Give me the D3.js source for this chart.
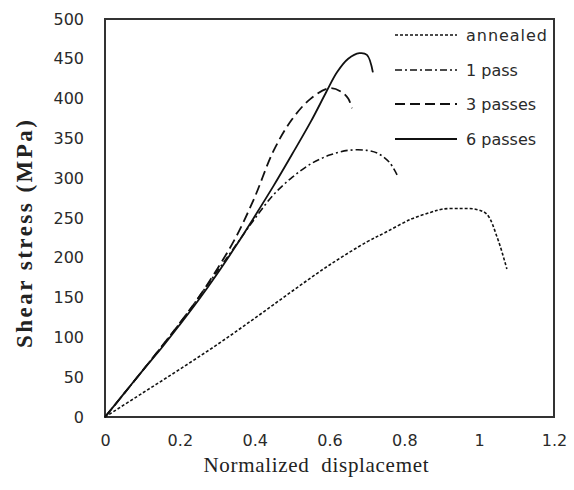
<!DOCTYPE html>
<html><head><meta charset="utf-8">
<script src="https://cdn.jsdelivr.net/npm/d3@7"></script>
<style>body{margin:0;background:#fff}svg{display:block}</style>
</head><body><svg id="c" width="574" height="490"></svg>
<script>
const xTicks = [0, 0.2, 0.4, 0.6, 0.8, 1, 1.2];
const yTicks = [0, 50, 100, 150, 200, 250, 300, 350, 400, 450, 500];
const seriesNames = ["annealed", "1 pass", "3 passes", "6 passes"];
const annealed = [[0,0],[0.1,30],[0.2,60],[0.3,91],[0.4,124],[0.5,158],[0.6,191],[0.7,220],[0.75,232],[0.82,249],[0.87,257],[0.9,261],[0.95,262],[0.99,261],[1.02,255],[1.048,226],[1.074,186]];
const pass1 = [[0,0],[0.1,58],[0.2,118],[0.3,183],[0.35,216],[0.4,249],[0.45,279],[0.5,301],[0.55,318],[0.6,329],[0.65,335],[0.7,335],[0.73,331],[0.76,320],[0.783,302]];
const pass3 = [[0,0],[0.1,58],[0.2,118],[0.25,150],[0.3,186],[0.35,226],[0.4,276],[0.45,334],[0.5,374],[0.55,400],[0.6,413],[0.63,409],[0.65,400],[0.66,388]];
const pass6 = [[0,0],[0.05,29],[0.1,58],[0.15,86],[0.2,116],[0.25,147],[0.3,180],[0.35,215],[0.4,252],[0.45,290],[0.5,330],[0.55,371],[0.59,407],[0.62,433],[0.65,450],[0.68,457],[0.70,455],[0.716,433]];
const allSeries = [annealed, pass1, pass3, pass6];
const dashes = ["3,2", "7,3,2,3", "10,5", null];
const widths = [1.6, 1.6, 1.8, 1.8];

const svg = d3.select("#c");
const L = 105, R = 554, T = 19, B = 417;
const x = d3.scaleLinear().domain([0, 1.2]).range([L, R]);
const y = d3.scaleLinear().domain([0, 500]).range([B, T]);

svg.append("rect").attr("x", L).attr("y", T).attr("width", R - L).attr("height", B - T)
  .attr("fill", "none").attr("stroke", "#333").attr("stroke-width", 2);

const xa = svg.append("g").attr("transform", `translate(0,${B + 15})`)
  .call(d3.axisBottom(x).tickValues(xTicks).tickSize(0).tickFormat(d => d3.format("")(d)));
xa.select(".domain").remove();
xa.selectAll("text").attr("font-family", "DejaVu Sans").attr("font-size", 16).attr("fill", "#2a2a2a");

const ya = svg.append("g").attr("transform", `translate(${L - 18},0)`)
  .call(d3.axisLeft(y).tickValues(yTicks).tickSize(0));
ya.select(".domain").remove();
ya.selectAll("text").attr("font-family", "DejaVu Sans").attr("font-size", 16).attr("fill", "#2a2a2a");

const line = d3.line().x(d => x(d[0])).y(d => y(d[1])).curve(d3.curveCatmullRom.alpha(0.5));
allSeries.forEach((s, i) => {
  svg.append("path").attr("d", line(s)).attr("fill", "none").attr("stroke", "#111")
    .attr("stroke-width", widths[i]).attr("stroke-dasharray", dashes[i]);
});

const legY = [35, 70, 104, 139];
seriesNames.forEach((n, i) => {
  svg.append("line").attr("x1", 395).attr("x2", 457).attr("y1", legY[i]).attr("y2", legY[i])
    .attr("stroke", "#111").attr("stroke-width", widths[i]).attr("stroke-dasharray", dashes[i]);
  const t = svg.append("text").attr("x", 466).attr("y", legY[i]).attr("dy", "0.35em")
    .attr("font-family", "DejaVu Sans").attr("font-size", 16).attr("fill", "#2a2a2a").text(n);
  if (i === 0) t.attr("textLength", 81).attr("lengthAdjust", "spacing");
});

svg.append("text").attr("x", 316).attr("y", 472).attr("text-anchor", "middle")
  .attr("font-family", "Liberation Serif").attr("font-size", 21).attr("fill", "#222")
  .attr("textLength", 225).attr("lengthAdjust", "spacing")
  .style("white-space", "pre").text("Normalized  displacemet");

svg.append("text").attr("transform", "translate(32,234) rotate(-90)").attr("text-anchor", "middle")
  .attr("font-family", "Liberation Serif").attr("font-weight", "bold").attr("font-size", 23).attr("fill", "#222")
  .attr("textLength", 228).attr("lengthAdjust", "spacing")
  .text("Shear stress (MPa)");
</script></body></html>
